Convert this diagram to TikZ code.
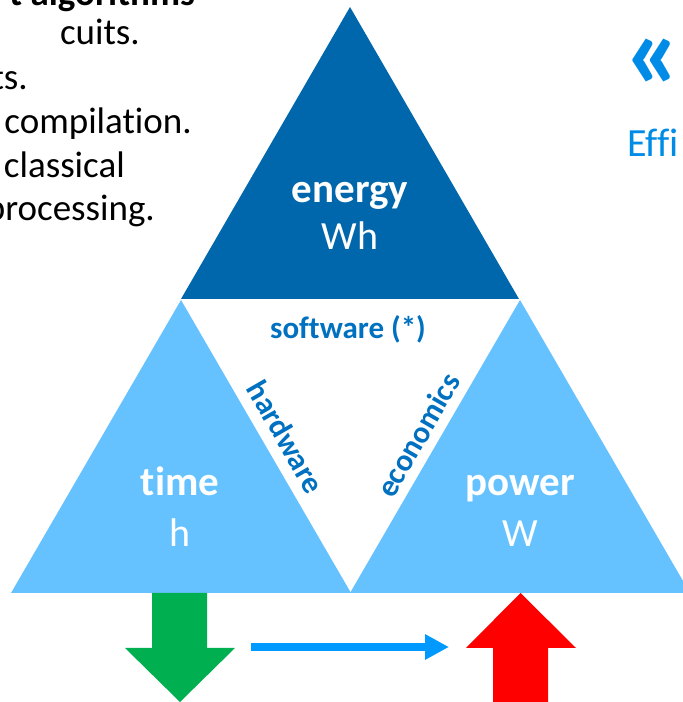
\documentclass[tikz,border=0pt]{standalone}
\usepackage{fontspec}
\setmainfont{Carlito}[RawFeature=-liga]
\usetikzlibrary{arrows.meta}
\definecolor{energyblue}{RGB}{0,103,172}
\definecolor{sideblue}{RGB}{102,194,255}
\definecolor{labelblue}{RGB}{0,112,192}
\definecolor{flowblue}{RGB}{0,153,255}
\definecolor{quoteblue}{RGB}{0,140,230}
\definecolor{downgreen}{RGB}{0,176,80}

\begin{document}
\begin{tikzpicture}[x=1pt,y=1pt,
  qty/.style={anchor=base,text=white,font=\fontsize{41}{49}\selectfont\bfseries},
  unit/.style={anchor=base,text=white,font=\fontsize{40}{48}\selectfont},
  side/.style={text=labelblue,font=\fontsize{31}{37}\selectfont\bfseries},
  line/.style={anchor=base east,inner sep=0pt,font=\fontsize{37}{44}\selectfont}]
        \clip (0,0) rectangle (683,702);
        % the three triangles
        \fill[energyblue](350,695)--(181,403)--(519,403)--cycle;
        \fill[sideblue](181,402)--(11,109)--(351,109)--cycle;
        \fill[sideblue](520,402)--(350,109)--(690,109)--cycle;
        \node[qty] (energy) at (350,499) {energy};
        \node[unit] (wh) at (350,452) {Wh};
        \node[qty] (time) at (180,206) {time};
        \node[unit] (hour) at (180,155) {h};
        \node[qty] (power) at (520,206) {power};
        \node[unit] (watt) at (520,155) {W};
        \node[side,anchor=base] (software) at (348,363) {software (*)};
        \node[side,rotate=-60] (hardware) at (286,265) {hardware};
        \node[side,rotate=60] (economics) at (418,267) {economics};
        % arrows below
        \fill[downgreen](152,109)--(152,54)--(125,54)--(180,0)--(235,54)--(207,54)--(207,109)--cycle;
        \fill[red](520.5,109)--(576,54)--(548,54)--(548,-5)--(493,-5)--(493,54)--(466,54)--cycle;
        \coordinate (flowstart) at (251,55);
        \coordinate (flowend) at (449,55);
        \draw[flowblue,line width=8pt,-{Triangle[length=24pt,width=24pt]}](flowstart)--(flowend);
        % text of the slide, cut off at the edges
        \node[line,font=\fontsize{37}{44}\selectfont\bfseries] (head) at (195,696) {t algorithms};
        \node[line] (l1) at (140,657) {cuits.};
        \node[line] (l2) at (28,612) {ts.};
        \node[line] (l3) at (192,568) {compilation.};
        \node[line] (l4) at (125,524) {classical};
        \node[line] (l5) at (155,481) {processing.};
        \node[text=quoteblue,font=\fontsize{110}{120}\selectfont\bfseries] (quote) at (654,638) {«};
        \node[anchor=base west,inner sep=0pt,text=quoteblue,font=\fontsize{40}{48}\selectfont] (effi) at (627,545) {Effi};
    \end{tikzpicture}
\end{document}
